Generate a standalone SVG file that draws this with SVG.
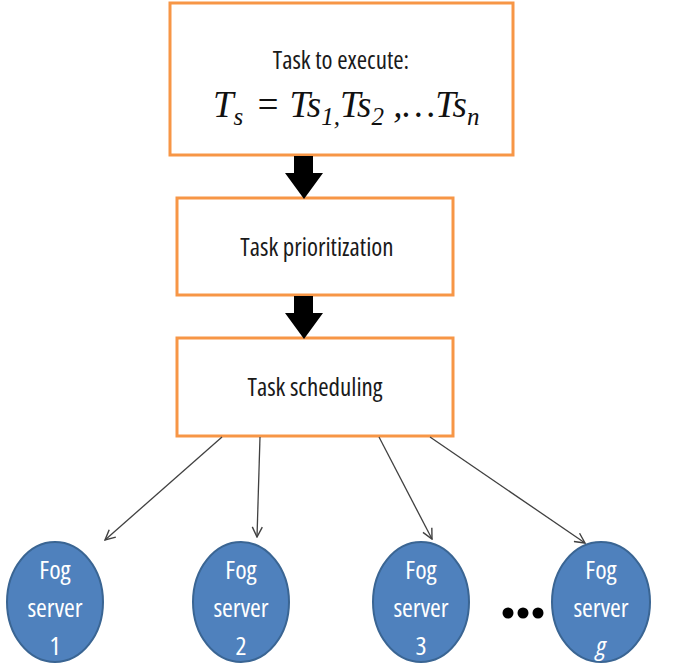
<svg xmlns="http://www.w3.org/2000/svg" width="673" height="668" viewBox="0 0 673 668">
<style>
.box{fill:#fff;stroke:#F79646;stroke-width:3}
.lbl{font-family:"Open Sans","Liberation Sans",sans-serif;font-size:25px;fill:#1a1a1a;text-anchor:middle;font-stretch:condensed}
.math{font-family:"Liberation Serif",serif;font-style:italic;fill:#111}
.srv{fill:#4F81BD;stroke:#3A6593;stroke-width:2}
.st{font-family:"Open Sans","Liberation Sans",sans-serif;font-size:26px;fill:#fff;text-anchor:middle;font-stretch:condensed}
.con{stroke:#404040;stroke-width:1.3;fill:none}
.big{fill:#000}
</style>
<defs>
<marker id="ah" viewBox="0 0 12 12" refX="11" refY="6" markerWidth="12" markerHeight="12" markerUnits="userSpaceOnUse" orient="auto">
<path d="M1,1 L11,6 L1,11" fill="none" stroke="#404040" stroke-width="1.4"/>
</marker>
</defs>
<g id="node-task">
<rect class="box" x="170" y="3" width="343" height="152"/>
<text class="lbl" x="341" y="69" font-size="26.5">Task to execute:</text>
<text class="math" x="213" y="117" font-size="37">T<tspan font-size="25" dy="8">s</tspan><tspan dy="-8" dx="12">= Ts</tspan><tspan font-size="25" dy="8">1,</tspan><tspan dy="-8">Ts</tspan><tspan font-size="25" dy="8">2</tspan><tspan dy="-8"> ,…Ts</tspan><tspan font-size="25" dy="8">n</tspan></text>
</g>
<g id="node-prio">
<rect class="box" x="177" y="198" width="276" height="97"/>
<text class="lbl" x="317" y="256">Task prioritization</text>
</g>
<g id="node-sched">
<rect class="box" x="177" y="338" width="276" height="98"/>
<text class="lbl" x="315" y="396">Task scheduling</text>
</g>
<g id="connectors">
<path class="big" d="M294,156 L313,156 L313,173 L323,173 L304,199 L285,173 L294,173 Z"/>
<path class="big" d="M294,296 L313,296 L313,313 L323,313 L304,339 L285,313 L294,313 Z"/>
<line class="con" x1="222" y1="437" x2="105" y2="540" marker-end="url(#ah)"/>
<line class="con" x1="260" y1="437" x2="257" y2="537" marker-end="url(#ah)"/>
<line class="con" x1="379" y1="437" x2="432" y2="539" marker-end="url(#ah)"/>
<line class="con" x1="430" y1="437" x2="585" y2="543" marker-end="url(#ah)"/>
</g>
<g id="node-fog1">
<ellipse class="srv" cx="55" cy="602" rx="48" ry="60"/>
<text class="st" x="55" y="579">Fog</text><text class="st" x="55" y="617">server</text><text class="st" x="55" y="655">1</text>
</g>
<g id="node-fog2">
<ellipse class="srv" cx="241" cy="602" rx="48" ry="60"/>
<text class="st" x="241" y="579">Fog</text><text class="st" x="241" y="617">server</text><text class="st" x="241" y="655">2</text>
</g>
<g id="node-fog3">
<ellipse class="srv" cx="421" cy="602" rx="48" ry="60"/>
<text class="st" x="421" y="579">Fog</text><text class="st" x="421" y="617">server</text><text class="st" x="421" y="655">3</text>
</g>
<g id="node-dots">
<circle cx="508" cy="613" r="5.5" fill="#000"/><circle cx="523" cy="613" r="5.5" fill="#000"/><circle cx="538" cy="613" r="5.5" fill="#000"/>
</g>
<g id="node-fogg">
<ellipse class="srv" cx="601" cy="602" rx="49" ry="60"/>
<text class="st" x="601" y="579">Fog</text><text class="st" x="601" y="617">server</text><text class="st" x="601" y="655" font-style="italic">g</text>
</g>
</svg>
